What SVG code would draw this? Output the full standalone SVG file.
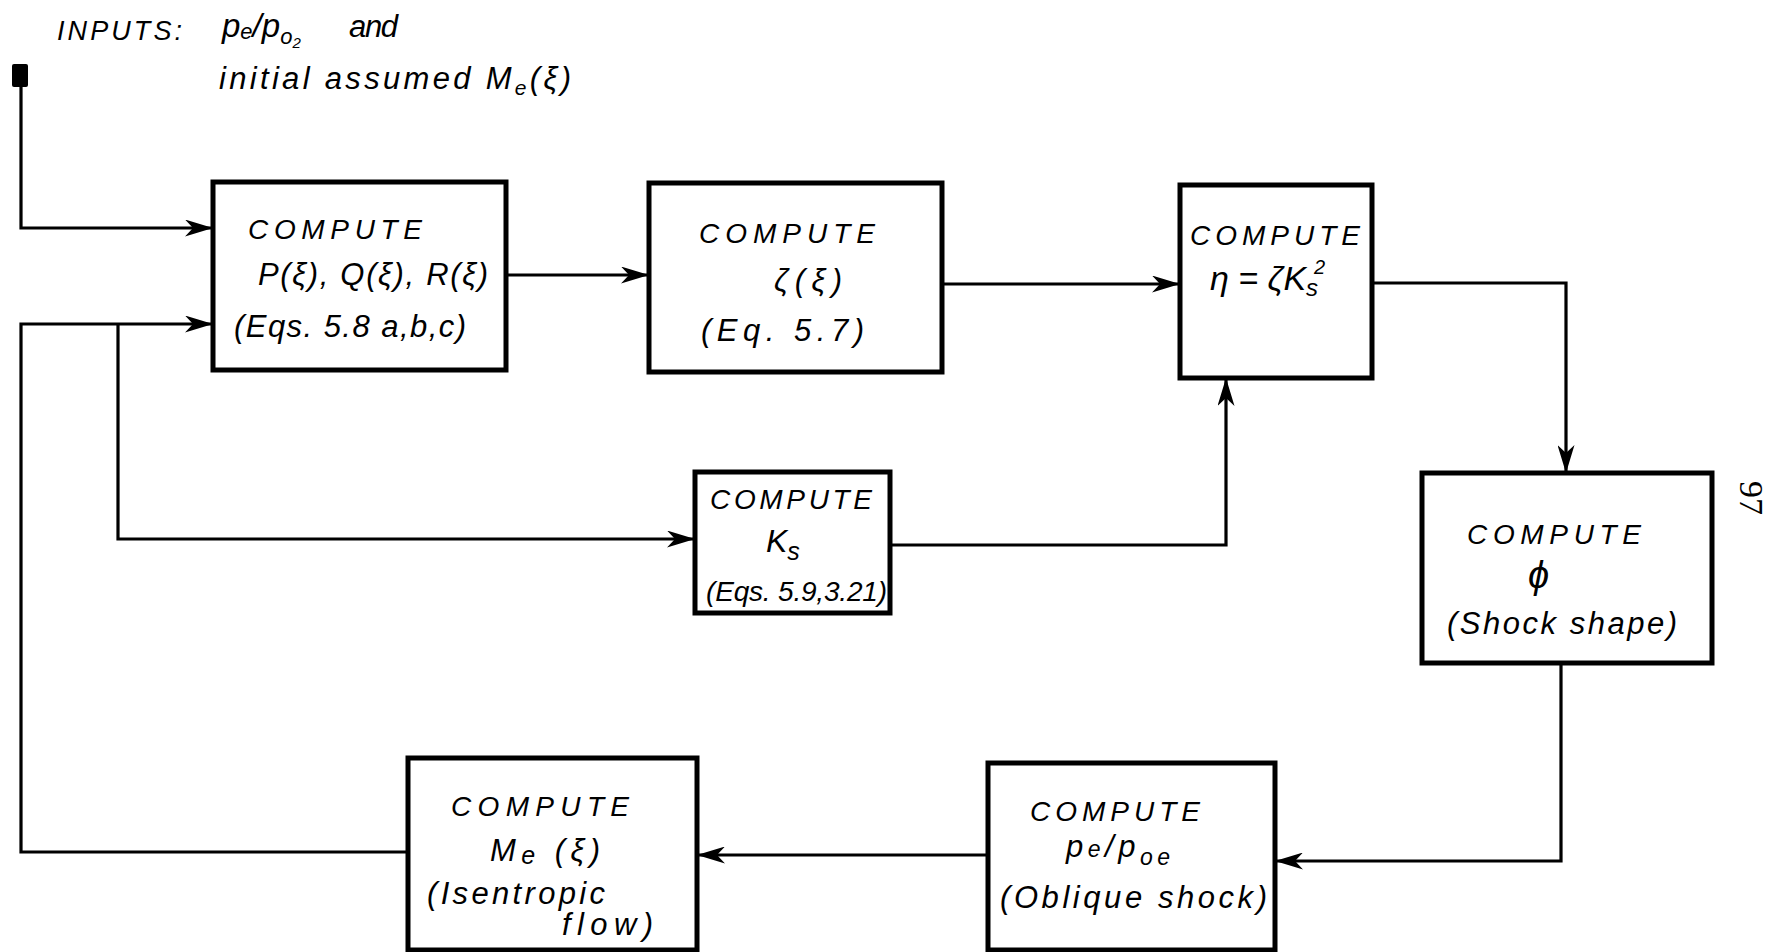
<svg xmlns="http://www.w3.org/2000/svg" width="1783" height="952" viewBox="0 0 1783 952">
<style>
.box{fill:#fff;stroke:#000;stroke-width:5}
.ln{fill:none;stroke:#000;stroke-width:3.2;marker-end:url(#ah)}
text{font-family:"Liberation Sans","DejaVu Sans",Arial,sans-serif;font-style:italic;fill:#000}
.c{font-size:28px}
.m{font-size:31px}
</style>
<defs>
<marker id="ah" markerUnits="userSpaceOnUse" viewBox="0 0 28 17" refX="28" refY="8.5" markerWidth="28" markerHeight="17" orient="auto">
<path d="M0,0 L28,8.5 L0,17 L8,8.5 Z" fill="#000"/>
</marker>
</defs>
<rect width="1783" height="952" fill="#fff"/>

<g id="inputs">
<rect x="12" y="64" width="16" height="23" rx="2" fill="#000"/>
<text x="57" y="40" font-size="27" textLength="125" lengthAdjust="spacing">INPUTS:</text>
<text x="222" y="37" font-size="33">p<tspan font-size="22" dy="2">e</tspan><tspan dy="-2">/p</tspan><tspan font-size="22" dy="7">o</tspan><tspan font-size="15" dy="4">2</tspan></text>
<text x="349" y="37" font-size="31" textLength="49" lengthAdjust="spacing">and</text>
<text x="219" y="89" font-size="31" textLength="352" lengthAdjust="spacing">initial assumed M<tspan font-size="21" dy="6">e</tspan><tspan dy="-6">(ξ)</tspan></text>
</g>

<g id="connectors">
<path class="ln" d="M21,87 V228 H213"/>
<path class="ln" d="M408,852 H21 V324 H213"/>
<path class="ln" d="M118,324 V539 H695"/>
<path class="ln" d="M506,275 H649"/>
<path class="ln" d="M942,284 H1180"/>
<path class="ln" d="M890,545 H1226 V378"/>
<path class="ln" d="M1372,283 H1566 V473"/>
<path class="ln" d="M1561,663 V861 H1275"/>
<path class="ln" d="M988,855 H697"/>
</g>

<g id="n1">
<rect class="box" x="213" y="182" width="293" height="188"/>
<text class="c" x="248" y="239" textLength="174" lengthAdjust="spacing">COMPUTE</text>
<text class="m" x="258" y="285" textLength="230" lengthAdjust="spacing">P(ξ), Q(ξ), R(ξ)</text>
<text class="m" x="234" y="337" textLength="232" lengthAdjust="spacing">(Eqs. 5.8 a,b,c)</text>
</g>

<g id="n2">
<rect class="box" x="649" y="183" width="293" height="189"/>
<text class="c" x="699" y="243" textLength="176" lengthAdjust="spacing">COMPUTE</text>
<text class="m" x="774" y="291" textLength="68" lengthAdjust="spacing">ζ(ξ)</text>
<text class="m" x="701" y="341" textLength="163" lengthAdjust="spacing">(Eq. 5.7)</text>
</g>

<g id="n3">
<rect class="box" x="1180" y="185" width="192" height="193"/>
<text class="c" x="1190" y="245" textLength="170" lengthAdjust="spacing">COMPUTE</text>
<text x="1210" y="290" font-size="34">η = ζK<tspan font-size="24" dy="6">s</tspan><tspan font-size="20" dy="-22" dx="-4">2</tspan></text>
</g>

<g id="n4">
<rect class="box" x="695" y="472" width="195" height="141"/>
<text class="c" x="710" y="509" textLength="162" lengthAdjust="spacing">COMPUTE</text>
<text x="766" y="552" font-size="32">K<tspan font-size="25" dy="8">s</tspan></text>
<text x="706" y="601" font-size="28" textLength="181" lengthAdjust="spacing">(Eqs. 5.9,3.21)</text>
</g>

<g id="n5">
<rect class="box" x="1422" y="473" width="290" height="190"/>
<text class="c" x="1467" y="544" textLength="174" lengthAdjust="spacing">COMPUTE</text>
<text x="1528" y="588" font-size="38">ϕ</text>
<text class="m" x="1447" y="634" textLength="230" lengthAdjust="spacing">(Shock shape)</text>
</g>

<g id="n6">
<rect class="box" x="408" y="758" width="289" height="192"/>
<text class="c" x="451" y="816" textLength="178" lengthAdjust="spacing">COMPUTE</text>
<text x="490" y="861" font-size="31" textLength="110" lengthAdjust="spacing">M<tspan font-size="25" dy="3">e</tspan><tspan dy="-3"> (ξ)</tspan></text>
<text class="m" x="427" y="904" textLength="178" lengthAdjust="spacing">(Isentropic</text>
<text class="m" x="562" y="935" textLength="91" lengthAdjust="spacing">flow)</text>
</g>

<g id="n7">
<rect class="box" x="988" y="763" width="287" height="187"/>
<text class="c" x="1030" y="821" textLength="170" lengthAdjust="spacing">COMPUTE</text>
<text x="1066" y="857" font-size="31" textLength="104" lengthAdjust="spacing">p<tspan font-size="23">e</tspan>/p<tspan font-size="23" dy="8">oe</tspan></text>
<text class="m" x="1000" y="908" textLength="267" lengthAdjust="spacing">(Oblique shock)</text>
</g>

<text transform="translate(1740,498) rotate(90)" x="0" y="0" font-size="34" text-anchor="middle" style="font-family:'Liberation Serif',serif;font-style:normal">97</text>
</svg>
